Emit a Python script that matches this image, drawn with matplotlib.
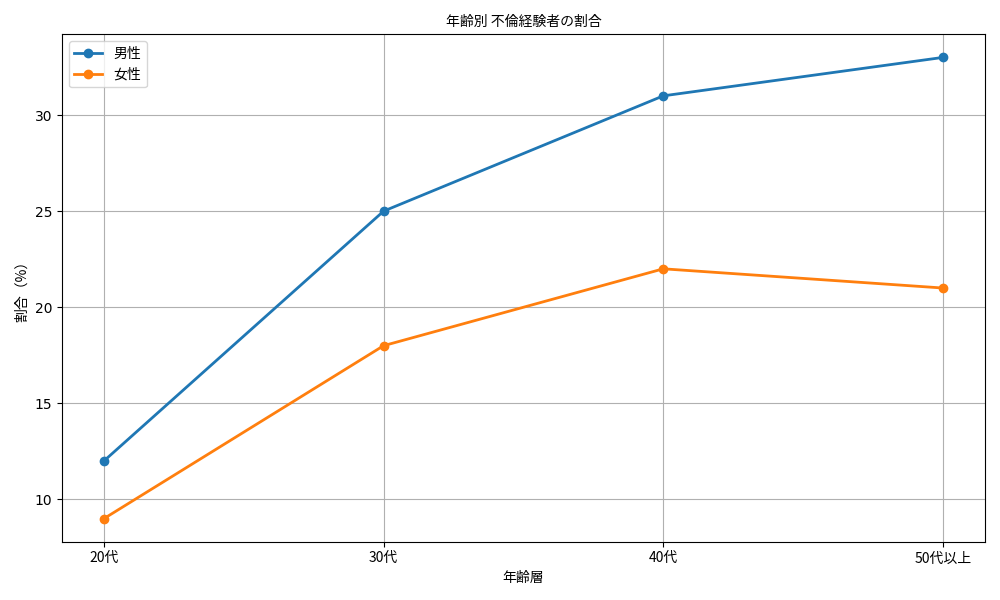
import matplotlib
matplotlib.use("Agg")
import matplotlib.pyplot as plt

plt.rcParams['font.family'] = ['DejaVu Sans', 'Noto Sans CJK JP']

ages = ["20代", "30代", "40代", "50代以上"]
male = [12, 25, 31, 33]
female = [9, 18, 22, 21]

jp = ['Noto Sans CJK JP', 'DejaVu Sans']

fig, ax = plt.subplots(figsize=(10, 6), dpi=100)

ax.plot(ages, male, marker='o', linewidth=2, label="男性")
ax.plot(ages, female, marker='o', linewidth=2, label="女性")

ax.set_title("年齢別 不倫経験者の割合", family=jp, fontsize=10)
ax.set_xlabel("年齢層", family=jp, fontsize=10)
ax.set_ylabel("割合（%）", family=jp, fontsize=10)

for lbl in ax.get_xticklabels():
    lbl.set_family(jp)

ax.legend(prop={'family': jp})
ax.grid(True)

plt.tight_layout()
plt.savefig("out.png")
